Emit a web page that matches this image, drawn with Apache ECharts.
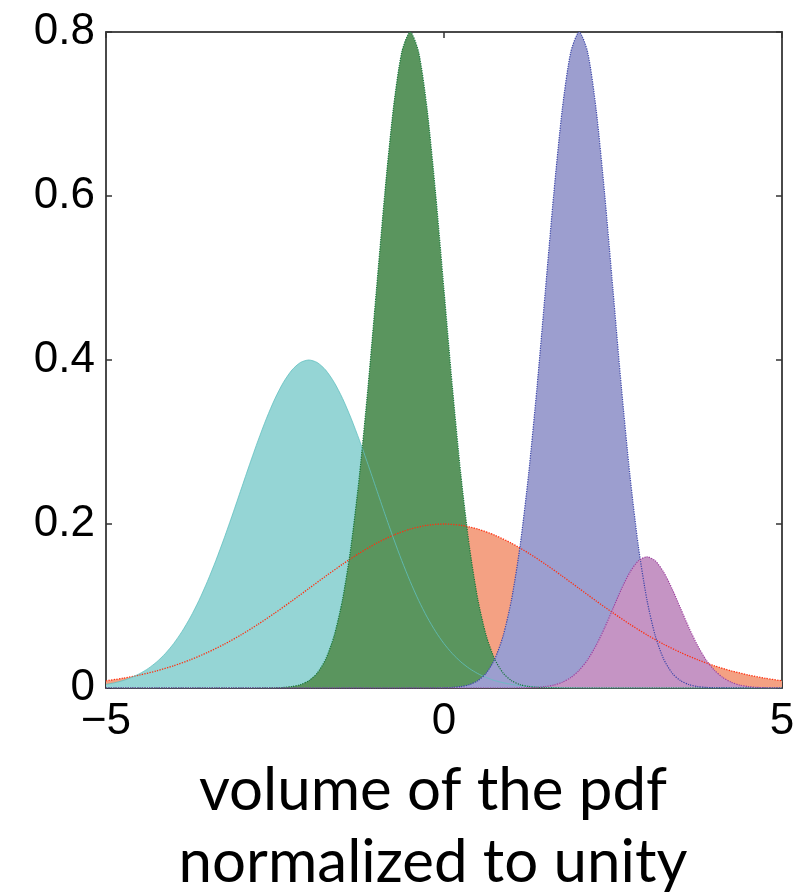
<!DOCTYPE html>
<html>
<head>
<meta charset="utf-8">
<script src="https://cdn.jsdelivr.net/npm/echarts@6/dist/echarts.min.js"></script>
<style>
html,body{margin:0;padding:0;background:#fff;}
#chart{width:809px;height:894px;}
</style>
</head>
<body>
<div id="chart"></div>
<script>
// sampling grid (x) shared by the narrow components
const xs = [-5,-4.875,-4.75,-4.625,-4.5,-4.375,-4.25,-4.125,-4,-3.875,-3.75,-3.625,-3.5,-3.375,-3.25,-3.125,-3,-2.875,-2.75,-2.625,-2.5,-2.375,-2.25,-2.125,-2,-1.875,-1.75,-1.625,-1.5,-1.375,-1.25,-1.125,-1,-0.875,-0.75,-0.625,-0.5,-0.375,-0.25,-0.125,0,0.125,0.25,0.375,0.5,0.625,0.75,0.875,1,1.125,1.25,1.375,1.5,1.625,1.75,1.875,2,2.125,2.25,2.375,2.5,2.625,2.75,2.875,3,3.125,3.25,3.375,3.5,3.625,3.75,3.875,4,4.125,4.25,4.375,4.5,4.625,4.75,4.875,5];

// broad red/orange component grid
const xsRed = [-5,-4.75,-4.5,-4.25,-4,-3.75,-3.5,-3.25,-3,-2.75,-2.5,-2.25,-2,-1.75,-1.5,-1.25,-1,-0.75,-0.5,-0.25,0,0.25,0.5,0.75,1,1.25,1.5,1.75,2,2.25,2.5,2.75,3,3.25,3.5,3.75,4,4.25,4.5,4.75,5];
const redY = [0.0088,0.0119,0.0159,0.0209,0.0271,0.0345,0.0433,0.0534,0.0649,0.0777,0.0916,0.1062,0.1213,0.1364,0.151,0.1645,0.1765,0.1864,0.1938,0.1984,0.2,0.1984,0.1938,0.1864,0.1765,0.1645,0.151,0.1364,0.1213,0.1062,0.0916,0.0777,0.0649,0.0534,0.0433,0.0345,0.0271,0.0209,0.0159,0.0119,0.0088];

const cyanY = [0.0044,0.0064,0.0091,0.0128,0.0176,0.0238,0.0318,0.0418,0.0541,0.069,
  0.0865,0.1068,0.1299,0.1554,0.1831,0.2124,0.2426,0.2728,0.3019,0.329,
  0.353,0.3728,0.3877,0.3969,0.4,
  0.3969,0.3877,0.3728,0.353,0.329,0.3019,0.2728,0.2426,0.2124,0.1831,
  0.1554,0.1299,0.1068,0.0865,0.069,0.0541,0.0418,0.0318,0.0238,0.0176,
  0.0128,0.0091,0.0064,0.0044,0.003,0.002,0.0014,0.0009,0.0006,0.0004,
  0.0002,0.0001,
  0,0,0,0,0,0,0,0,0,0, 0,0,0,0,0,0,0,0,0,0, 0,0,0,0];

const greenY = [0,0,0,0,0,0,0,0,0,0, 0,0,0,0,0,0,0,0,0,
  0.0001,0.0003,0.0007,0.0018,0.0041,0.0089,0.0182,0.0352,0.0637,0.1083,0.173,0.2598,0.3662,0.4852,0.6038,0.706,0.7754,
  0.8,
  0.7754,0.706,0.6038,0.4852,0.3662,0.2598,0.173,0.1083,0.0637,0.0352,0.0182,0.0089,0.0041,0.0018,0.0007,0.0003,0.0001,
  0,0,0,0,0,0,0,0,0,0, 0,0,0,0,0,0,0,0,0,0, 0,0,0,0,0,0,0];

const blueY = [0,0,0,0,0,0,0,0,0,0, 0,0,0,0,0,0,0,0,0,0, 0,0,0,0,0,0,0,0,0,0, 0,0,0,0,0,0,0,0,0,
  0.0001,0.0003,0.0007,0.0018,0.0041,0.0089,0.0182,0.0352,0.0637,0.1083,0.173,0.2598,0.3662,0.4852,0.6038,0.706,0.7754,
  0.8,
  0.7754,0.706,0.6038,0.4852,0.3662,0.2598,0.173,0.1083,0.0637,0.0352,0.0182,0.0089,0.0041,0.0018,0.0007,0.0003,0.0001,
  0,0,0,0,0,0,0];

const magentaY = [0,0,0,0,0,0,0,0,0,0, 0,0,0,0,0,0,0,0,0,0, 0,0,0,0,0,0,0,0,0,0, 0,0,0,0,0,0,0,0,0,0, 0,0,0,0,0,0,0,0,0,
  0.0001,0.0004,0.0008,0.0018,0.0036,0.007,0.0127,0.0217,0.0346,0.052,0.0732,0.097,0.1208,0.1412,0.1551,
  0.16,
  0.1551,0.1412,0.1208,0.097,0.0732,0.052,0.0346,0.0217,0.0127,0.007,0.0036,0.0018,0.0008,0.0004,0.0001,
  0];

const xTicks = [-5, 0, 5];
const yTicks = [0, 0.2, 0.4, 0.6, 0.8];
const titleLines = ['volume of the pdf', 'normalized to unity'];

[cyanY, greenY, blueY, magentaY].forEach(function (a, i) {
  if (a.length !== xs.length) throw new Error('length mismatch series ' + i + ': ' + a.length);
});
if (redY.length !== xsRed.length) throw new Error('red length mismatch');

function zip(x, y) { return x.map(function (v, i) { return [v, y[i]]; }); }

const comps = [
  { name: 'red', x: xsRed, y: redY, fill: '#f4a183', line: '#ff3010', lt: 'dotted', lw: 1.3 },
  { name: 'cyan', x: xs, y: cyanY, fill: '#95d5d5', line: '#62c0c0', lt: 'solid', lw: 0.8 },
  { name: 'green', x: xs, y: greenY, fill: '#5a955e', line: '#16763a', lt: 'dotted', lw: 1.2 },
  { name: 'blue', x: xs, y: blueY, fill: '#9c9ecf', line: '#3a45a8', lt: 'dotted', lw: 1.2 },
  { name: 'magenta', x: xs, y: magentaY, fill: '#c594c4', line: '#9c3f9e', lt: 'dotted', lw: 1.2 }
];

const series = [];
comps.forEach(function (c, i) {
  series.push({
    type: 'line', name: c.name + '-fill', data: zip(c.x, c.y),
    xAxisIndex: 0, yAxisIndex: 0,
    smooth: 0.25, showSymbol: false, symbol: 'none',
    lineStyle: { width: 0, opacity: 0 },
    areaStyle: { color: c.fill, opacity: 1 },
    z: 2 + i * 0.01, silent: true, animation: false
  });
});
comps.forEach(function (c, i) {
  series.push({
    type: 'line', name: c.name + '-line', data: zip(c.x, c.y),
    xAxisIndex: 0, yAxisIndex: 0,
    smooth: 0.25, showSymbol: false, symbol: 'none',
    lineStyle: { width: c.lw, color: c.line, type: c.lt },
    z: 3, silent: true, animation: false
  });
});

const axisLineStyle = { color: '#4a4a4a', width: 2 };
const labelFont = { fontFamily: 'Liberation Sans, Arial, sans-serif', fontSize: 44, color: '#000' };

const chart = echarts.init(document.getElementById('chart'), null, { renderer: 'canvas' });
chart.setOption({
  animation: false,
  backgroundColor: '#fff',
  grid: { left: 106, right: 27, top: 32, bottom: 206, show: false },
  xAxis: [
    {
      type: 'value', min: xTicks[0], max: xTicks[xTicks.length - 1], interval: 5, position: 'bottom',
      axisLine: { show: true, onZero: false, lineStyle: axisLineStyle },
      axisTick: { show: true, inside: true, length: 6, lineStyle: { color: '#333', width: 1.5 } },
      axisLabel: Object.assign({ margin: 12, formatter: function (v) { return v < 0 ? '\u2212' + Math.abs(v) : String(v); } }, labelFont),
      splitLine: { show: false }
    },
    {
      type: 'value', min: xTicks[0], max: xTicks[xTicks.length - 1], interval: 5, position: 'top',
      axisLine: { show: true, onZero: false, lineStyle: axisLineStyle },
      axisTick: { show: true, inside: true, length: 6, lineStyle: { color: '#333', width: 1.5 } },
      axisLabel: { show: false }, splitLine: { show: false }
    }
  ],
  yAxis: [
    {
      type: 'value', min: yTicks[0], max: yTicks[yTicks.length - 1], interval: 0.2, position: 'left',
      axisLine: { show: true, onZero: false, lineStyle: axisLineStyle },
      axisTick: { show: true, inside: true, length: 6, lineStyle: { color: '#333', width: 1.5 } },
      axisLabel: Object.assign({ margin: 11, formatter: function (v) { return v === 0 ? '0' : v.toFixed(1); } }, labelFont),
      splitLine: { show: false }
    },
    {
      type: 'value', min: yTicks[0], max: yTicks[yTicks.length - 1], interval: 0.2, position: 'right',
      axisLine: { show: true, onZero: false, lineStyle: axisLineStyle },
      axisTick: { show: true, inside: true, length: 6, lineStyle: { color: '#333', width: 1.5 } },
      axisLabel: { show: false }, splitLine: { show: false }
    }
  ],
  graphic: [
    { type: 'text', x: 433, y: 791, style: { text: titleLines[0], fontFamily: 'Lato, sans-serif', fontSize: 60, fill: '#000', textAlign: 'center', textVerticalAlign: 'middle' } },
    { type: 'text', x: 433, y: 863, style: { text: titleLines[1], fontFamily: 'Lato, sans-serif', fontSize: 60, fill: '#000', textAlign: 'center', textVerticalAlign: 'middle' } }
  ],
  series: series
});
</script>
</body>
</html>
